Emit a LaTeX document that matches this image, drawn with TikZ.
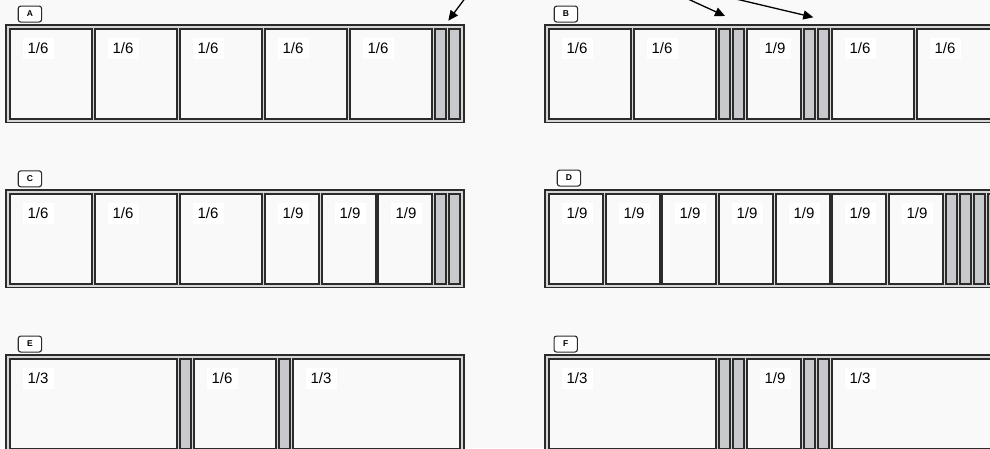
\documentclass[tikz,border=0pt]{standalone}
\usepackage{fontspec}
\setmainfont{Liberation Sans}
\usetikzlibrary{arrows.meta}
\definecolor{bg}{HTML}{F9F9F9}
\definecolor{framefill}{HTML}{D6D6D6}
\definecolor{edge}{HTML}{2B2B2B}
\definecolor{stripfill}{HTML}{C8C9CC}
\tikzset{
  outerframe/.style={fill=framefill,draw=edge,line width=1.2pt},
  cellbox/.style={fill=bg,draw=edge,line width=1.8pt},
  stripbox/.style={fill=stripfill,draw=edge,line width=1.6pt},
  frac/.style={fill=white,inner sep=0pt,minimum width=31pt,minimum height=21pt,font=\fontsize{15}{15}\selectfont,anchor=north west},
  tab/.style={fill=white,draw=edge,line width=1.1pt,rounded corners=2.5pt,inner sep=0pt,minimum width=23.3pt,minimum height=16pt,font=\bfseries\fontsize{8.5}{8.5}\selectfont,anchor=north west},
  pointer/.style={line width=1.3pt,draw=black,-{Triangle[length=10pt,width=9pt]}}
}
\newcommand\Cell[5]{% name, x, ytop, width, label
  \draw[cellbox] (#2,#3) rectangle ++(#4,90);
  \node[frac] (#1) at ({#2+12.3},{#3+9.2}) {#5};}
\newcommand\Strip[2]{\draw[stripbox] (#1,#2) rectangle ++(11,90);}
\begin{document}
\begin{tikzpicture}[x=1pt,y=-1pt]
\useasboundingbox (0,0) rectangle (990,448);
\clip (0,0) rectangle (990,448);
\fill[bg] (0,0) rectangle (990,448);

% ---------- A ----------
\node[tab] (tA) at (17.7,5.5) {A};
\draw[outerframe] (6,25) rectangle (464,122.2);
\Cell{a1}{10}{28.7}{82}{1/6}
\Cell{a2}{95}{28.7}{82}{1/6}
\Cell{a3}{180}{28.7}{82}{1/6}
\Cell{a4}{265}{28.7}{82}{1/6}
\Cell{a5}{350}{28.7}{82}{1/6}
\Strip{435}{28.7}\Strip{449}{28.7}
\coordinate (pA0) at (464.5,-1);
\coordinate (pA1) at (448.3,20.7);
\draw[pointer] (pA0) -- (pA1);

% ---------- B ----------
\node[tab] (tB) at (553.7,5.5) {B};
\draw[outerframe] (545,25) rectangle (1004,122.2);
\Cell{b1}{549}{28.7}{82}{1/6}
\Cell{b2}{634}{28.7}{82}{1/6}
\Strip{719}{28.7}\Strip{733}{28.7}
\Cell{b3}{747}{28.7}{54}{1/9}
\Strip{804}{28.7}\Strip{818}{28.7}
\Cell{b4}{832}{28.7}{82}{1/6}
\Cell{b5}{917}{28.7}{82}{1/6}
\coordinate (pB0) at (688,-1);
\coordinate (pB1) at (725,16);
\coordinate (pC0) at (736,-1);
\coordinate (pC1) at (813.3,17.3);
\draw[pointer] (pB0) -- (pB1);
\draw[pointer] (pC0) -- (pC1);

% ---------- C ----------
\node[tab] (tC) at (17.7,170.3) {C};
\draw[outerframe] (6,190) rectangle (464,287.2);
\Cell{c1}{10}{193.7}{82}{1/6}
\Cell{c2}{95}{193.7}{82}{1/6}
\Cell{c3}{180}{193.7}{82}{1/6}
\Cell{c4}{265}{193.7}{54}{1/9}
\Cell{c5}{322}{193.7}{54}{1/9}
\Cell{c6}{378}{193.7}{54}{1/9}
\Strip{435}{193.7}\Strip{449}{193.7}

% ---------- D ----------
\node[tab] (tD) at (556.7,169.5) {D};
\draw[outerframe] (545,190) rectangle (1010,287.2);
\Cell{d1}{549}{193.7}{54}{1/9}
\Cell{d2}{606}{193.7}{54}{1/9}
\Cell{d3}{662}{193.7}{54}{1/9}
\Cell{d4}{719}{193.7}{54}{1/9}
\Cell{d5}{776}{193.7}{54}{1/9}
\Cell{d6}{832}{193.7}{54}{1/9}
\Cell{d7}{889}{193.7}{54}{1/9}
\Strip{946}{193.7}\Strip{960}{193.7}\Strip{974}{193.7}\Strip{988}{193.7}

% ---------- E ----------
\node[tab] (tE) at (17.7,335.5) {E};
\draw[outerframe] (6,355) rectangle (464,452.2);
\Cell{e1}{10}{358.7}{167}{1/3}
\Strip{180}{358.7}
\Cell{e2}{194}{358.7}{82}{1/6}
\Strip{279}{358.7}
\Cell{e3}{293}{358.7}{167}{1/3}

% ---------- F ----------
\node[tab] (tF) at (553.5,335.5) {F};
\draw[outerframe] (545,355) rectangle (1004,452.2);
\Cell{f1}{549}{358.7}{167}{1/3}
\Strip{719}{358.7}\Strip{733}{358.7}
\Cell{f2}{747}{358.7}{54}{1/9}
\Strip{804}{358.7}\Strip{818}{358.7}
\Cell{f3}{832}{358.7}{167}{1/3}
\end{tikzpicture}
\end{document}
